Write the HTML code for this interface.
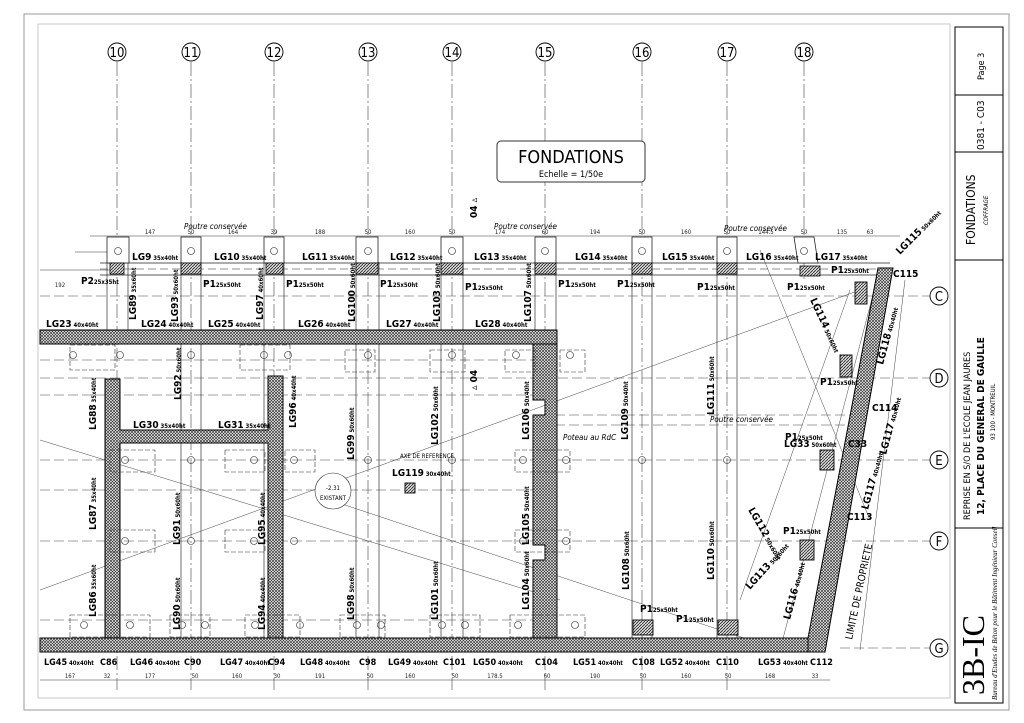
<!DOCTYPE html>
<html><head><meta charset="utf-8"><style>
html,body{margin:0;padding:0;background:#fff}
svg{display:block;font-family:"DejaVu Sans Condensed","Liberation Sans Narrow","Liberation Sans",sans-serif}
.t{font-size:10px;font-weight:bold;fill:#000}
.s{font-size:6px;fill:#000}
.d{font-size:6px;fill:#222}
</style></head><body>
<svg width="1024" height="723" viewBox="0 0 1024 723" xmlns="http://www.w3.org/2000/svg">
<defs>
<pattern id="h" width="3" height="3" patternUnits="userSpaceOnUse">
<rect width="3" height="3" fill="#fff"/><path d="M0 0L3 3M3 0L0 3" stroke="#333" stroke-width="0.7"/>
</pattern>
<pattern id="b" width="3" height="3" patternUnits="userSpaceOnUse">
<rect width="3" height="3" fill="#ddd"/><path d="M0 3L3 0" stroke="#222" stroke-width="0.8"/>
</pattern>
</defs>
<rect width="1024" height="723" fill="#fff"/>
<rect x="24" y="14" width="985" height="696" fill="none" stroke="#999" stroke-width="1"/>
<rect x="38" y="24" width="912" height="674" fill="none" stroke="#bbb" stroke-width="0.8"/>

<g stroke="#444" stroke-width="0.6" fill="none">
<g stroke-dasharray="14 3 2 3">
<line x1="117" y1="62" x2="117" y2="690"/><line x1="191" y1="62" x2="191" y2="690"/>
<line x1="274" y1="62" x2="274" y2="690"/><line x1="368" y1="62" x2="368" y2="690"/>
<line x1="452" y1="62" x2="452" y2="690"/><line x1="545" y1="62" x2="545" y2="690"/>
<line x1="642" y1="62" x2="642" y2="690"/><line x1="727" y1="62" x2="727" y2="690"/>
<line x1="804" y1="62" x2="804" y2="280"/>
</g>
<g stroke-dasharray="10 4">
<line x1="40" y1="296" x2="930" y2="296"/><line x1="40" y1="378" x2="930" y2="378"/>
<line x1="40" y1="460" x2="930" y2="460"/><line x1="40" y1="541" x2="930" y2="541"/>
<line x1="840" y1="648" x2="930" y2="648"/>
<line x1="40" y1="360" x2="540" y2="360"/><line x1="40" y1="395" x2="540" y2="395"/>
<line x1="40" y1="490" x2="540" y2="490"/><line x1="40" y1="620" x2="540" y2="620"/>
<line x1="555" y1="415" x2="850" y2="415"/><line x1="555" y1="425" x2="850" y2="425"/>
</g>
<g stroke="#333" stroke-width="0.7">
<line x1="107" y1="262" x2="107" y2="330"/><line x1="128" y1="262" x2="128" y2="330"/>
<line x1="181" y1="262" x2="181" y2="640"/><line x1="201" y1="262" x2="201" y2="640"/>
<line x1="264" y1="262" x2="264" y2="640"/><line x1="284" y1="262" x2="284" y2="330"/>
<line x1="356" y1="262" x2="356" y2="640"/><line x1="379" y1="262" x2="379" y2="640"/>
<line x1="441" y1="262" x2="441" y2="640"/><line x1="463" y1="262" x2="463" y2="640"/>
<line x1="535" y1="262" x2="535" y2="330"/><line x1="556" y1="262" x2="556" y2="330"/>
<line x1="632" y1="262" x2="632" y2="640"/><line x1="652" y1="262" x2="652" y2="640"/>
<line x1="717" y1="262" x2="717" y2="640"/><line x1="737" y1="262" x2="737" y2="640"/>
</g>
<line x1="40" y1="440" x2="560" y2="600" stroke-width="0.5"/>
<line x1="40" y1="590" x2="860" y2="290" stroke-width="0.5"/>
<line x1="330" y1="500" x2="750" y2="640" stroke-width="0.5"/>
<line x1="880" y1="268" x2="780" y2="650" stroke-width="0.5"/>
<line x1="905" y1="280" x2="860" y2="650" stroke-width="0.5"/>
<line x1="760" y1="250" x2="870" y2="520" stroke-width="0.5"/>
<line x1="740" y1="600" x2="850" y2="290" stroke-width="0.5"/>
</g>

<g stroke="#333" stroke-width="0.5">
<line x1="90" y1="236" x2="900" y2="236"/>
<line x1="75" y1="252" x2="110" y2="252"/>
<line x1="40" y1="270" x2="110" y2="270"/>
</g>
<g class="d" text-anchor="middle">
<text x="150" y="234">147</text><text x="191" y="234">50</text><text x="233" y="234">164</text>
<text x="274" y="234">39</text><text x="320" y="234">188</text><text x="368" y="234">50</text>
<text x="410" y="234">160</text><text x="452" y="234">50</text><text x="500" y="234">174</text>
<text x="545" y="234">60</text><text x="595" y="234">194</text><text x="642" y="234">50</text>
<text x="686" y="234">160</text><text x="727" y="234">50</text><text x="766" y="234">144.5</text>
<text x="804" y="234">50</text><text x="842" y="234">135</text><text x="870" y="234">63</text>
<text x="60" y="287">192</text>
</g>

<g stroke="#222" stroke-width="0.8" fill="none">
<line x1="100" y1="263" x2="890" y2="263"/>
<line x1="100" y1="275" x2="885" y2="275"/>
<line x1="100" y1="269" x2="885" y2="269" stroke-dasharray="8 4" stroke-width="0.5"/>
</g>
<g stroke="#222" stroke-width="0.8" fill="#fff">
<rect x="107" y="237" width="22" height="26"/><rect x="181" y="237" width="20" height="26"/>
<rect x="264" y="237" width="20" height="26"/><rect x="356" y="237" width="22" height="26"/>
<rect x="441" y="237" width="22" height="26"/><rect x="535" y="237" width="21" height="26"/>
<rect x="632" y="237" width="20" height="26"/><rect x="717" y="237" width="20" height="26"/>
<polygon points="794,237 814,237 818,263 798,263"/>
</g>
<g fill="url(#b)" stroke="#000" stroke-width="0.8">
<rect x="110" y="263" width="14" height="11"/><rect x="181" y="263" width="20" height="11"/>
<rect x="266" y="263" width="17" height="11"/><rect x="356" y="263" width="22" height="11"/>
<rect x="441" y="263" width="22" height="11"/><rect x="535" y="263" width="21" height="11"/>
<rect x="632" y="263" width="20" height="11"/><rect x="717" y="263" width="20" height="11"/>
<rect x="800" y="266" width="20" height="10"/>
</g>
<g stroke="#222" stroke-width="0.6" fill="none">
<circle cx="118" cy="251" r="3.5"/><circle cx="191" cy="251" r="3.5"/><circle cx="274" cy="251" r="3.5"/>
<circle cx="368" cy="251" r="3.5"/><circle cx="452" cy="251" r="3.5"/><circle cx="545" cy="251" r="3.5"/>
<circle cx="642" cy="251" r="3.5"/><circle cx="727" cy="251" r="3.5"/><circle cx="804" cy="251" r="3.5"/>
</g>

<g fill="url(#h)" stroke="#000" stroke-width="1">
<rect x="40" y="330" width="517" height="14"/>
<polygon points="533,344 557,344 557,648 533,648 533,560 545,560 545,545 533,545 533,415 545,415 545,400 533,400"/>
<polygon points="105,379 120,379 120,430 268,430 268,376 283,376 283,648 268,648 268,443 120,443 120,648 105,648"/>
<rect x="40" y="638" width="785" height="14"/>
<polygon points="878,268 893,268 825,652 808,652 808,638"/>
</g>
<g stroke="#333" stroke-width="0.6" fill="none" stroke-dasharray="5 2">
<rect x="70" y="345" width="45" height="25"/><rect x="240" y="345" width="50" height="25"/>
<rect x="345" y="350" width="30" height="22"/><rect x="430" y="350" width="35" height="22"/>
<rect x="505" y="350" width="30" height="22"/><rect x="560" y="350" width="25" height="22"/>
<rect x="110" y="450" width="45" height="22"/><rect x="225" y="450" width="40" height="22"/>
<rect x="285" y="450" width="30" height="22"/><rect x="515" y="450" width="55" height="22"/>
<rect x="110" y="530" width="45" height="22"/><rect x="225" y="530" width="40" height="22"/>
<rect x="515" y="530" width="55" height="22"/>
<rect x="70" y="615" width="80" height="22"/><rect x="170" y="615" width="40" height="22"/>
<rect x="245" y="615" width="55" height="22"/><rect x="340" y="615" width="45" height="22"/>
<rect x="430" y="615" width="50" height="22"/><rect x="510" y="615" width="75" height="22"/>
</g>
<g stroke="#222" stroke-width="0.6" fill="none">
<circle cx="73" cy="355" r="3.5"/><circle cx="120" cy="355" r="3.5"/><circle cx="191" cy="355" r="3.5"/>
<circle cx="264" cy="355" r="3.5"/><circle cx="288" cy="355" r="3.5"/><circle cx="368" cy="355" r="3.5"/>
<circle cx="452" cy="355" r="3.5"/><circle cx="516" cy="355" r="3.5"/><circle cx="570" cy="355" r="3.5"/>
<circle cx="125" cy="460" r="3.5"/><circle cx="191" cy="460" r="3.5"/><circle cx="254" cy="460" r="3.5"/>
<circle cx="294" cy="460" r="3.5"/><circle cx="368" cy="460" r="3.5"/><circle cx="452" cy="460" r="3.5"/>
<circle cx="523" cy="460" r="3.5"/><circle cx="566" cy="460" r="3.5"/><circle cx="642" cy="460" r="3.5"/>
<circle cx="727" cy="460" r="3.5"/>
<circle cx="125" cy="541" r="3.5"/><circle cx="191" cy="541" r="3.5"/><circle cx="254" cy="541" r="3.5"/>
<circle cx="294" cy="541" r="3.5"/><circle cx="523" cy="541" r="3.5"/><circle cx="566" cy="541" r="3.5"/>
<circle cx="84" cy="625" r="3.5"/><circle cx="130" cy="625" r="3.5"/><circle cx="182" cy="625" r="3.5"/>
<circle cx="205" cy="625" r="3.5"/><circle cx="255" cy="625" r="3.5"/><circle cx="300" cy="625" r="3.5"/>
<circle cx="357" cy="625" r="3.5"/><circle cx="381" cy="625" r="3.5"/><circle cx="442" cy="625" r="3.5"/>
<circle cx="465" cy="625" r="3.5"/><circle cx="518" cy="625" r="3.5"/><circle cx="575" cy="625" r="3.5"/>
</g>
<g stroke="#000" stroke-width="0.9" fill="url(#b)">
<rect x="633" y="620" width="20" height="15"/><rect x="718" y="620" width="20" height="15"/>
<rect x="820" y="450" width="14" height="20"/><rect x="800" y="540" width="14" height="20"/>
<rect x="855" y="282" width="12" height="22"/><rect x="840" y="355" width="12" height="22"/>
<rect x="405" y="483" width="10" height="10"/>
</g>
<circle cx="333" cy="491" r="18" fill="#fff" stroke="#333" stroke-width="0.6"/>
<text x="333" y="490" class="s" text-anchor="middle">-2.31</text>
<text x="333" y="500" class="s" text-anchor="middle">EXISTANT</text>
<text x="400" y="458" class="s" fill="#555">AXE DE REFERENCE</text>

<g fill="#fff" stroke="#000" stroke-width="0.9">
<circle cx="117" cy="52" r="9"/><circle cx="191" cy="52" r="9"/><circle cx="274" cy="52" r="9"/>
<circle cx="368" cy="52" r="9"/><circle cx="452" cy="52" r="9"/><circle cx="545" cy="52" r="9"/>
<circle cx="642" cy="52" r="9"/><circle cx="727" cy="52" r="9"/><circle cx="804" cy="52" r="9"/>
<circle cx="939" cy="296" r="9"/><circle cx="939" cy="378" r="9"/><circle cx="939" cy="460" r="9"/>
<circle cx="939" cy="541" r="9"/><circle cx="939" cy="648" r="9"/>
</g>
<g style="font-size:13px" text-anchor="middle" fill="#000">
<text x="117" y="57">10</text><text x="191" y="57">11</text><text x="274" y="57">12</text>
<text x="368" y="57">13</text><text x="452" y="57">14</text><text x="545" y="57">15</text>
<text x="642" y="57">16</text><text x="727" y="57">17</text><text x="804" y="57">18</text>
<text x="939" y="301">C</text><text x="939" y="383">D</text><text x="939" y="465">E</text>
<text x="939" y="546">F</text><text x="939" y="653">G</text>
</g>

<rect x="497" y="141" width="148" height="41" rx="4" fill="#fff" stroke="#333" stroke-width="1"/>
<text x="571" y="163" text-anchor="middle" style="font-size:18px">FONDATIONS</text>
<text x="571" y="177" text-anchor="middle" style="font-size:9px">Echelle = 1/50e</text>

<g class="t">
<text x="132" y="260">LG9<tspan class="s"> 35x40ht</tspan></text>
<text x="214" y="260">LG10<tspan class="s"> 35x40ht</tspan></text>
<text x="302" y="260">LG11<tspan class="s"> 35x40ht</tspan></text>
<text x="390" y="260">LG12<tspan class="s"> 35x40ht</tspan></text>
<text x="474" y="260">LG13<tspan class="s"> 35x40ht</tspan></text>
<text x="575" y="260">LG14<tspan class="s"> 35x40ht</tspan></text>
<text x="662" y="260">LG15<tspan class="s"> 35x40ht</tspan></text>
<text x="746" y="260">LG16<tspan class="s"> 35x40ht</tspan></text>
<text x="815" y="260">LG17<tspan class="s"> 35x40ht</tspan></text>
<text x="81" y="284">P2<tspan class="s">25x35ht</tspan></text>
<text x="203" y="287">P1<tspan class="s">25x50ht</tspan></text>
<text x="286" y="287">P1<tspan class="s">25x50ht</tspan></text>
<text x="380" y="287">P1<tspan class="s">25x50ht</tspan></text>
<text x="465" y="290">P1<tspan class="s">25x50ht</tspan></text>
<text x="558" y="287">P1<tspan class="s">25x50ht</tspan></text>
<text x="617" y="287">P1<tspan class="s">25x50ht</tspan></text>
<text x="697" y="290">P1<tspan class="s">25x50ht</tspan></text>
<text x="787" y="290">P1<tspan class="s">25x50ht</tspan></text>
<text x="831" y="273">P1<tspan class="s">25x50ht</tspan></text>
<text x="46" y="327">LG23<tspan class="s"> 40x40ht</tspan></text>
<text x="141" y="327">LG24<tspan class="s"> 40x40ht</tspan></text>
<text x="208" y="327">LG25<tspan class="s"> 40x40ht</tspan></text>
<text x="298" y="327">LG26<tspan class="s"> 40x40ht</tspan></text>
<text x="386" y="327">LG27<tspan class="s"> 40x40ht</tspan></text>
<text x="475" y="327">LG28<tspan class="s"> 40x40ht</tspan></text>
<text x="133" y="428">LG30<tspan class="s"> 35x40ht</tspan></text>
<text x="218" y="428">LG31<tspan class="s"> 35x40ht</tspan></text>
<text x="392" y="476">LG119<tspan class="s"> 30x40ht</tspan></text>
<text x="784" y="447">LG33<tspan class="s"> 50x60ht</tspan></text>
<text x="820" y="385">P1<tspan class="s">25x50ht</tspan></text>
<text x="785" y="440">P1<tspan class="s">25x50ht</tspan></text>
<text x="783" y="534">P1<tspan class="s">25x50ht</tspan></text>
<text x="640" y="612">P1<tspan class="s">25x50ht</tspan></text>
<text x="676" y="622">P1<tspan class="s">25x50ht</tspan></text>
<text x="893" y="277">C115</text><text x="872" y="411">C114</text>
<text x="848" y="447">C33</text><text x="847" y="520">C113</text>
</g>
<g class="t">
<text transform="translate(136,320) rotate(-90)">LG89<tspan class="s"> 35x60ht</tspan></text>
<text transform="translate(178,322) rotate(-90)">LG93<tspan class="s"> 50x60ht</tspan></text>
<text transform="translate(263,320) rotate(-90)">LG97<tspan class="s"> 40x60ht</tspan></text>
<text transform="translate(355,322) rotate(-90)">LG100<tspan class="s"> 50x60ht</tspan></text>
<text transform="translate(440,322) rotate(-90)">LG103<tspan class="s"> 50x60ht</tspan></text>
<text transform="translate(531,322) rotate(-90)">LG107<tspan class="s"> 50x60ht</tspan></text>
<text transform="translate(96,430) rotate(-90)">LG88<tspan class="s"> 35x40ht</tspan></text>
<text transform="translate(181,400) rotate(-90)">LG92<tspan class="s"> 50x60ht</tspan></text>
<text transform="translate(296,428) rotate(-90)">LG96<tspan class="s"> 40x40ht</tspan></text>
<text transform="translate(354,460) rotate(-90)">LG99<tspan class="s"> 50x60ht</tspan></text>
<text transform="translate(438,445) rotate(-90)">LG102<tspan class="s"> 50x60ht</tspan></text>
<text transform="translate(529,440) rotate(-90)">LG106<tspan class="s"> 50x40ht</tspan></text>
<text transform="translate(628,440) rotate(-90)">LG109<tspan class="s"> 50x40ht</tspan></text>
<text transform="translate(714,415) rotate(-90)">LG111<tspan class="s"> 50x60ht</tspan></text>
<text transform="translate(96,530) rotate(-90)">LG87<tspan class="s"> 35x40ht</tspan></text>
<text transform="translate(180,545) rotate(-90)">LG91<tspan class="s"> 50x60ht</tspan></text>
<text transform="translate(265,545) rotate(-90)">LG95<tspan class="s"> 40x40ht</tspan></text>
<text transform="translate(529,545) rotate(-90)">LG105<tspan class="s"> 50x40ht</tspan></text>
<text transform="translate(629,590) rotate(-90)">LG108<tspan class="s"> 50x60ht</tspan></text>
<text transform="translate(714,580) rotate(-90)">LG110<tspan class="s"> 50x60ht</tspan></text>
<text transform="translate(96,617) rotate(-90)">LG86<tspan class="s"> 35x60ht</tspan></text>
<text transform="translate(180,630) rotate(-90)">LG90<tspan class="s"> 50x60ht</tspan></text>
<text transform="translate(265,630) rotate(-90)">LG94<tspan class="s"> 40x40ht</tspan></text>
<text transform="translate(354,620) rotate(-90)">LG98<tspan class="s"> 50x60ht</tspan></text>
<text transform="translate(438,620) rotate(-90)">LG101<tspan class="s"> 50x60ht</tspan></text>
<text transform="translate(529,610) rotate(-90)">LG104<tspan class="s"> 50x60ht</tspan></text>
<text transform="translate(810,300) rotate(65)">LG114<tspan class="s"> 50x60ht</tspan></text>
<text transform="translate(883,365) rotate(-75)">LG118<tspan class="s"> 40x40ht</tspan></text>
<text transform="translate(886,455) rotate(-75)">LG117<tspan class="s"> 40x40ht</tspan></text>
<text transform="translate(868,510) rotate(-75)">LG117<tspan class="s"> 40x40ht</tspan></text>
<text transform="translate(900,255) rotate(-45)">LG115<tspan class="s"> 50x60ht</tspan></text>
<text transform="translate(748,510) rotate(60)">LG112<tspan class="s"> 50x60ht</tspan></text>
<text transform="translate(750,590) rotate(-48)">LG113<tspan class="s"> 50x60ht</tspan></text>
<text transform="translate(790,620) rotate(-75)">LG116<tspan class="s"> 40x40ht</tspan></text>
</g>
<text transform="translate(852,640) rotate(-78)" style="font-size:10px">LIMITE DE PROPRIETE</text>
<text transform="translate(477,218) rotate(-90)" class="t">04 ▵</text>
<text transform="translate(477,390) rotate(-90)" class="t">▵ 04</text>
<g style="font-size:8px;font-style:italic">
<text x="184" y="229">Poutre conservée</text><text x="494" y="229">Poutre conservée</text>
<text x="724" y="231">Poutre conservée</text><text x="710" y="422">Poutre conservée</text>
<text x="563" y="440">Poteau au RdC</text>
</g>

<g class="t" style="font-size:9px">
<text x="44" y="665">LG45<tspan class="s"> 40x40ht</tspan></text><text x="100" y="665">C86</text>
<text x="130" y="665">LG46<tspan class="s"> 40x40ht</tspan></text><text x="184" y="665">C90</text>
<text x="220" y="665">LG47<tspan class="s"> 40x40ht</tspan></text><text x="268" y="665">C94</text>
<text x="300" y="665">LG48<tspan class="s"> 40x40ht</tspan></text><text x="359" y="665">C98</text>
<text x="388" y="665">LG49<tspan class="s"> 40x40ht</tspan></text><text x="443" y="665">C101</text>
<text x="473" y="665">LG50<tspan class="s"> 40x40ht</tspan></text><text x="535" y="665">C104</text>
<text x="573" y="665">LG51<tspan class="s"> 40x40ht</tspan></text><text x="632" y="665">C108</text>
<text x="660" y="665">LG52<tspan class="s"> 40x40ht</tspan></text><text x="716" y="665">C110</text>
<text x="758" y="665">LG53<tspan class="s"> 40x40ht</tspan></text><text x="810" y="665">C112</text>
</g>
<line x1="40" y1="680" x2="830" y2="680" stroke="#333" stroke-width="0.5"/>
<g class="d" text-anchor="middle">
<text x="70" y="678">167</text><text x="107" y="678">32</text><text x="150" y="678">177</text>
<text x="195" y="678">50</text><text x="237" y="678">160</text><text x="277" y="678">30</text>
<text x="320" y="678">191</text><text x="370" y="678">50</text><text x="410" y="678">160</text>
<text x="455" y="678">50</text><text x="495" y="678">178.5</text><text x="547" y="678">60</text>
<text x="595" y="678">190</text><text x="643" y="678">50</text><text x="686" y="678">160</text>
<text x="728" y="678">50</text><text x="770" y="678">168</text><text x="815" y="678">33</text>
</g>

<g stroke="#000" stroke-width="1" fill="none">
<rect x="955" y="27" width="48" height="676"/>
<line x1="955" y1="95" x2="1003" y2="95"/><line x1="955" y1="152" x2="1003" y2="152"/>
<line x1="955" y1="260" x2="1003" y2="260"/><line x1="955" y1="528" x2="1003" y2="528"/>
</g>
<g fill="#000">
<text transform="translate(984,80) rotate(-90)" style="font-size:9px">Page 3</text>
<text transform="translate(984,150) rotate(-90)" style="font-size:10px">0381 - C03</text>
<text transform="translate(975,245) rotate(-90)" style="font-size:12px">FONDATIONS</text>
<text transform="translate(988,225) rotate(-90)" style="font-size:6px;font-style:italic">COFFRAGE</text>
<text transform="translate(970,520) rotate(-90)" style="font-size:9px">REPRISE EN S/O DE L'ECOLE JEAN JAURES</text>
<text transform="translate(984,515) rotate(-90)" style="font-size:10px;font-weight:bold">12, PLACE DU GENERAL DE GAULLE</text>
<text transform="translate(995,440) rotate(-90)" style="font-size:6px">93 100 - MONTREUIL</text>
<text transform="translate(984,695) rotate(-90)" style="font-size:32px;font-family:'Liberation Serif',serif">3B-IC</text>
<text transform="translate(997,700) rotate(-90)" style="font-size:7px;font-style:italic;font-family:'Liberation Serif',serif">Bureau d'Etudes de Béton pour le Bâtiment Ingénieur Conseil</text>
</g>
</svg>
</body></html>
